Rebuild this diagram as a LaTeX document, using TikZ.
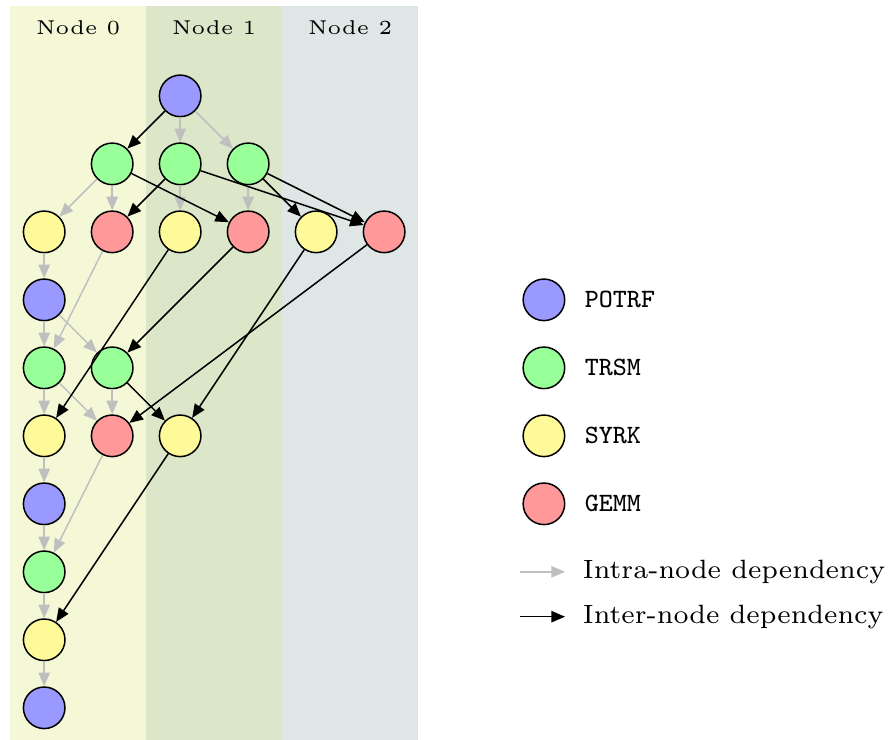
\documentclass[tikz,border=0pt]{standalone}
\usepackage{tikz}
\usetikzlibrary{arrows.meta, positioning}
\usepackage{xcolor}

\definecolor{nodezero}{RGB}{245,248,214}
\definecolor{nodeone}{RGB}{220,230,200}
\definecolor{nodetwo}{RGB}{222,230,230}

\begin{document}
\begin{tikzpicture}
  [x=18pt, y=18pt,
  task/.style={circle,draw=black,minimum size=11pt,inner sep=0pt},
  potrf/.style={task,fill=blue!40},
  trsm/.style={task,fill=green!40},
  syrk/.style={task,fill=yellow!40},
  gemm/.style={task,fill=red!40},
  header/.style={font=\fontsize{5.3}{6.5}\selectfont},
  intra/.style={draw=black!25,-{Triangle[length=3.6pt,width=3pt]}},
  inter/.style={draw=black,-{Triangle[length=3.6pt,width=3pt]}}]

\useasboundingbox (-0.65,-9.47) rectangle (12.44,1.41);

% Backgrounds for the three nodes
\fill[nodezero] (-0.5,-9.47) rectangle (1.5,1.32);
\fill[nodeone] (1.5,-9.47) rectangle (3.5,1.32);
\fill[nodetwo] (3.5,-9.47) rectangle (5.5,1.32);
\node[header] (hdr0) at (0.5,1) {Node 0};
\node[header] (hdr1) at (2.5,1) {Node 1};
\node[header] (hdr2) at (4.5,1) {Node 2};

% Step k=0
\node[potrf] (p0) at (2,0) {};
\node[trsm] (t10) at (1,-1) {};
\node[trsm] (t20) at (2,-1) {};
\node[trsm] (t30) at (3,-1) {};
\node[syrk] (s11) at (0,-2) {};
\node[gemm] (g21) at (1,-2) {};
\node[syrk] (s22) at (2,-2) {};
\node[gemm] (g31) at (3,-2) {};
\node[syrk] (s33) at (4,-2) {};
\node[gemm] (g32) at (5,-2) {};
% Step k=1
\node[potrf] (p1) at (0,-3) {};
\node[trsm] (t21) at (0,-4) {};
\node[trsm] (t31) at (1,-4) {};
\node[syrk] (s22b) at (0,-5) {};
\node[gemm] (g32b) at (1,-5) {};
\node[syrk] (s33b) at (2,-5) {};
% Steps k=2 and k=3
\node[potrf] (p2) at (0,-6) {};
\node[trsm] (t32) at (0,-7) {};
\node[syrk] (s33c) at (0,-8) {};
\node[potrf] (p3) at (0,-9) {};

% Dependencies inside one node
\draw[intra] (p0) -- (t20);
\draw[intra] (p0) -- (t30);
\draw[intra] (t10) -- (s11);
\draw[intra] (t10) -- (g21);
\draw[intra] (t20) -- (s22);
\draw[intra] (t30) -- (g31);
\draw[intra] (s11) -- (p1);
\draw[intra] (g21) -- (t21);
\draw[intra] (p1) -- (t21);
\draw[intra] (p1) -- (t31);
\draw[intra] (t21) -- (s22b);
\draw[intra] (t21) -- (g32b);
\draw[intra] (t31) -- (g32b);
\draw[intra] (s22b) -- (p2);
\draw[intra] (g32b) -- (t32);
\draw[intra] (p2) -- (t32);
\draw[intra] (t32) -- (s33c);
\draw[intra] (s33c) -- (p3);
% Dependencies between nodes
\draw[inter] (p0) -- (t10);
\draw[inter] (t10) -- (g31);
\draw[inter] (t20) -- (g21);
\draw[inter] (t20) -- (g32);
\draw[inter] (t30) -- (s33);
\draw[inter] (t30) -- (g32);
\draw[inter] (s22) -- (s22b);
\draw[inter] (g31) -- (t31);
\draw[inter] (s33) -- (s33b);
\draw[inter] (g32) -- (g32b);
\draw[inter] (t31) -- (s33b);
\draw[inter] (s33b) -- (s33c);

% Legend
\node[potrf] (lpotrf) at (7.35,-3) {};
\node[trsm] (ltrsm) at (7.35,-4) {};
\node[syrk] (lsyrk) at (7.35,-5) {};
\node[gemm] (lgemm) at (7.35,-6) {};
\node[right=1.6pt of lpotrf, font=\scriptsize\ttfamily] (lpotrftxt) {POTRF};
\node[right=1.6pt of ltrsm, font=\scriptsize\ttfamily] (ltrsmtxt) {TRSM};
\node[right=1.6pt of lsyrk, font=\scriptsize\ttfamily] (lsyrktxt) {SYRK};
\node[right=1.6pt of lgemm, font=\scriptsize\ttfamily] (lgemmtxt) {GEMM};
\coordinate (intraa) at (7,-7);
\coordinate (intrab) at (7.66,-7);
\coordinate (intera) at (7,-7.66);
\coordinate (interb) at (7.66,-7.66);
\draw[intra] (intraa) -- (intrab);
\draw[inter] (intera) -- (interb);
\node[right=1.2pt of intrab, font=\scriptsize] (intratxt) {Intra-node dependency};
\node[right=1.2pt of interb, font=\scriptsize] (intertxt) {Inter-node dependency};

\end{tikzpicture}
\end{document}
